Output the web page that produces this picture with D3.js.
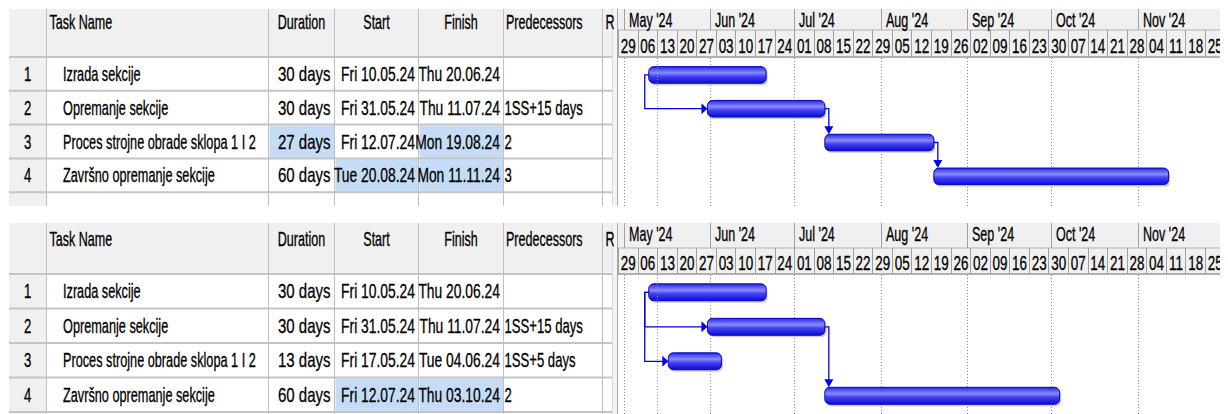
<!DOCTYPE html>
<html><head><meta charset="utf-8">
<script src="https://cdn.jsdelivr.net/npm/d3@7"></script>
<style>
body{margin:0;background:#fff;}
svg{display:block;font-family:"Liberation Sans",Arial,sans-serif;}
</style></head><body>
<svg id="chart" width="1228" height="414"></svg>
<script>
const taskIds = [1,2,3,4];
const taskNames = ["Izrada sekcije","Opremanje sekcije","Proces strojne obrade sklopa 1 I 2","Završno opremanje sekcije"];

// first schedule (upper view)
const durationsA = ["30 days","30 days","27 days","60 days"];
const startsA = ["2024-05-10","2024-05-31","2024-07-12","2024-08-20"];
const finishesA = ["2024-06-20","2024-07-11","2024-08-19","2024-11-11"];
const predecessorsA = ["","1SS+15 days","2","3"];
const changedA = [[],[],["duration","finish"],["start","finish"]];
const linksA = [[1,2,"SS"],[2,3,"FS"],[3,4,"FS"]];

// second schedule (lower view)
const durationsB = ["30 days","30 days","13 days","60 days"];
const startsB = ["2024-05-10","2024-05-31","2024-05-17","2024-07-12"];
const finishesB = ["2024-06-20","2024-07-11","2024-06-04","2024-10-03"];
const predecessorsB = ["","1SS+15 days","1SS+5 days","2"];
const changedB = [[],[],[],["start","finish"]];
const linksB = [[1,2,"SS"],[1,3,"SS"],[2,4,"FS"]];

const timeStart = "2024-04-29", timeEnd = "2024-12-02";
const currentDate = "2024-05-13";

const parse = d3.timeParse("%Y-%m-%d");
const fmtDate = d3.timeFormat("%a %d.%m.%y");
const svg = d3.select("#chart");

// narrow look: Liberation Sans squeezed horizontally, stretched vertically
const CAP = 14.8;
function label(g, x, y, s, anchor, size){
  size = size || 15.3;
  g.append("text")
    .attr("transform", `translate(${x},${y}) scale(0.82,${(CAP/(0.716*size)).toFixed(3)})`)
    .attr("text-anchor", anchor || "start")
    .attr("font-size", size)
    .attr("fill", "#000")
    .attr("stroke", "#000").attr("stroke-width", 0.25)
    .text(s);
}

// table columns
const cols = [
  {key:"id", x0:9, x1:46.5},
  {key:"name", x0:46.5, x1:268.5},
  {key:"duration", x0:268.5, x1:334.5},
  {key:"start", x0:334.5, x1:418.5},
  {key:"finish", x0:418.5, x1:503.5},
  {key:"pred", x0:503.5, x1:602.5},
  {key:"res", x0:602.5, x1:612.5}
];
const colBy = Object.fromEntries(cols.map(c => [c.key, c]));

const chartX0 = 618, chartX1 = 1220;
const x = d3.scaleTime()
  .domain([parse(timeStart), parse(timeEnd)])
  .range([chartX0, chartX0 + 217*2.795]);

const defs = svg.append("defs");
const grad = defs.append("linearGradient").attr("id","barGrad").attr("x1",0).attr("y1",0).attr("x2",0).attr("y2",1);
[[0,"#2626d6"],[0.18,"#5858f2"],[0.38,"#8a8aff"],[0.58,"#4444f0"],[0.85,"#1e1ee2"],[1,"#1010c2"]]
  .forEach(([o,c]) => grad.append("stop").attr("offset",o).attr("stop-color",c));
defs.append("clipPath").attr("id","chartClip").append("rect")
  .attr("x",chartX0).attr("y",0).attr("width",chartX1-chartX0).attr("height",414);

function drawPanel(cfg, sched){
  const {top, headerH, tierH, rowH, bottom, headBase} = cfg;
  const hb = top + headerH;
  const g = svg.append("g");
  const rows = taskIds.map((id,i) => ({
    id, name: taskNames[i], duration: sched.durations[i],
    start: parse(sched.starts[i]), finish: parse(sched.finishes[i]),
    pred: sched.preds[i], changed: sched.changed[i], y: hb + i*rowH
  }));

  // ---- table ----
  g.append("rect").attr("x",9).attr("y",top).attr("width",612.5-9).attr("height",headerH).attr("fill","#f0f0f0");
  g.append("rect").attr("x",9).attr("y",hb).attr("width",colBy.id.x1-9).attr("height",bottom-hb).attr("fill","#f0f0f0");
  rows.forEach(r => r.changed.forEach(k => {
    const c = colBy[k];
    g.append("rect").attr("x",c.x0+1).attr("y",r.y+1).attr("width",c.x1-c.x0-1).attr("height",rowH-1).attr("fill","#c6dcf6");
  }));
  d3.range(rows.length+1).forEach(i => {
    const y = hb + i*rowH;
    if (y > bottom) return;
    g.append("line").attr("x1",9).attr("x2",612.5).attr("y1",y).attr("y2",y).attr("stroke","#c4c4c4").attr("stroke-width",2);
  });
  cols.forEach(c => {
    g.append("line").attr("x1",c.x1).attr("x2",c.x1).attr("y1",top).attr("y2",bottom)
      .attr("stroke", "#c0c0c0").attr("stroke-width",1);
  });
  // splitter
  g.append("rect").attr("x",612.5).attr("y",top).attr("width",5).attr("height",bottom-top).attr("fill","#f4f4f4");
  g.append("line").attr("x1",617.5).attr("x2",617.5).attr("y1",top).attr("y2",bottom).attr("stroke","#a8a8a8");

  const hy = top + headBase;
  label(g, colBy.name.x0+3, hy, "Task Name");
  label(g, (colBy.duration.x0+colBy.duration.x1)/2, hy, "Duration", "middle");
  label(g, (colBy.start.x0+colBy.start.x1)/2, hy, "Start", "middle");
  label(g, (colBy.finish.x0+colBy.finish.x1)/2, hy, "Finish", "middle");
  label(g, colBy.pred.x0+2.5, hy, "Predecessors");
  label(g, colBy.res.x0+3, hy, "R");

  rows.forEach(r => {
    const by = r.y + rowH/2 + 7;
    label(g, (colBy.id.x0+colBy.id.x1)/2, by, r.id, "middle", 16);
    label(g, colBy.name.x0+16.5, by, r.name, "start", 15.5);
    label(g, colBy.duration.x1-4, by, r.duration, "end", 18.3);
    label(g, colBy.start.x1-3.5, by, fmtDate(r.start), "end", 16.9);
    label(g, colBy.finish.x1-3.5, by, fmtDate(r.finish), "end", 16.9);
    if (r.pred) label(g, colBy.pred.x0+1, by, r.pred, "start", 16);
  });

  // ---- timescale ----
  const cg = g.append("g").attr("clip-path","url(#chartClip)");
  cg.append("rect").attr("x",chartX0).attr("y",top).attr("width",chartX1-chartX0).attr("height",headerH).attr("fill","#f0f0f0");
  cg.append("line").attr("x1",chartX0).attr("x2",chartX1).attr("y1",top+tierH).attr("y2",top+tierH).attr("stroke","#b0b0b0");
  cg.append("line").attr("x1",chartX0).attr("x2",chartX1).attr("y1",hb).attr("y2",hb).attr("stroke","#b0b0b0").attr("stroke-width",2);
  const [d0, d1] = x.domain();
  const months = d3.timeMonth.range(d3.timeMonth.ceil(d0), d1);
  months.forEach(m => {
    const mx = Math.round(x(m)) + 0.5;
    cg.append("line").attr("x1",mx).attr("x2",mx).attr("y1",top).attr("y2",top+tierH).attr("stroke","#a0a0a0");
    label(cg, mx + 4.5, top + 17.5, d3.timeFormat("%b '%y")(m));
    cg.append("line").attr("x1",mx).attr("x2",mx).attr("y1",hb+1).attr("y2",bottom)
      .attr("stroke","#8c8c8c").attr("stroke-dasharray","1,2");
  });
  const weeks = d3.timeMonday.range(d0, d1);
  const weekW = x(d3.timeDay.offset(d0,7)) - x(d0);
  weeks.forEach(w => {
    const wx = Math.round(x(w)) + 0.5;
    cg.append("line").attr("x1",wx).attr("x2",wx).attr("y1",top+tierH).attr("y2",hb).attr("stroke","#a0a0a0");
    label(cg, x(w) + weekW/2 + 0.5, hb - 4.5, d3.timeFormat("%d")(w), "middle", 16.4);
  });

  // ---- bars ----
  const barTop = r => r.y + rowH*0.285;
  const barH = rowH*0.49;
  const mid = r => barTop(r) + barH/2;
  const endX = r => x(d3.timeDay.offset(r.finish,1));
  rows.forEach(r => {
    cg.append("rect").attr("x",x(r.start)+1.5).attr("y",barTop(r)+2).attr("width",endX(r)-x(r.start)).attr("height",barH)
      .attr("rx",5).attr("fill","#a8a8b8").attr("opacity",0.6);
    cg.append("rect").attr("x",x(r.start)).attr("y",barTop(r)).attr("width",endX(r)-x(r.start)).attr("height",barH)
      .attr("rx",5).attr("fill","url(#barGrad)").attr("stroke","#0000c8").attr("stroke-width",1);
  });

  // current date line (on top)
  const cx = Math.round(x(parse(currentDate))) + 0.5;
  cg.append("line").attr("x1",cx).attr("x2",cx).attr("y1",hb+1).attr("y2",bottom)
    .attr("stroke","#9a9aa8").attr("stroke-dasharray","1,2");

  // ---- links ----
  const byId = Object.fromEntries(rows.map(r => [r.id, r]));
  sched.links.forEach(([a,b,type]) => {
    const s = byId[a], t = byId[b];
    let path, arrow;
    if (type === "SS") {
      const sx = x(s.start), vx = sx - 4, tx = x(t.start), ty = mid(t);
      path = `M${sx},${mid(s)}H${vx}V${ty}H${tx-5}`;
      arrow = `M${tx-6},${ty-5.5}L${tx},${ty}L${tx-6},${ty+5.5}Z`;
    } else {
      const ex = endX(s), vx = ex + 4, ty = barTop(t);
      path = `M${ex},${mid(s)}H${vx}V${ty-6}`;
      arrow = `M${vx-4.5},${ty-8}L${vx+4.5},${ty-8}L${vx},${ty}Z`;
    }
    cg.append("path").attr("d",path).attr("fill","none").attr("stroke","#0000f0").attr("stroke-width",1.3);
    cg.append("path").attr("d",arrow).attr("fill","#0000f0");
  });
}

drawPanel({top:9, headerH:48, tierH:21, rowH:33.8, bottom:206, headBase:20},
  {durations:durationsA, starts:startsA, finishes:finishesA, preds:predecessorsA, changed:changedA, links:linksA});
drawPanel({top:223, headerH:51, tierH:25, rowH:34.5, bottom:414, headBase:23},
  {durations:durationsB, starts:startsB, finishes:finishesB, preds:predecessorsB, changed:changedB, links:linksB});
</script>
</body></html>
